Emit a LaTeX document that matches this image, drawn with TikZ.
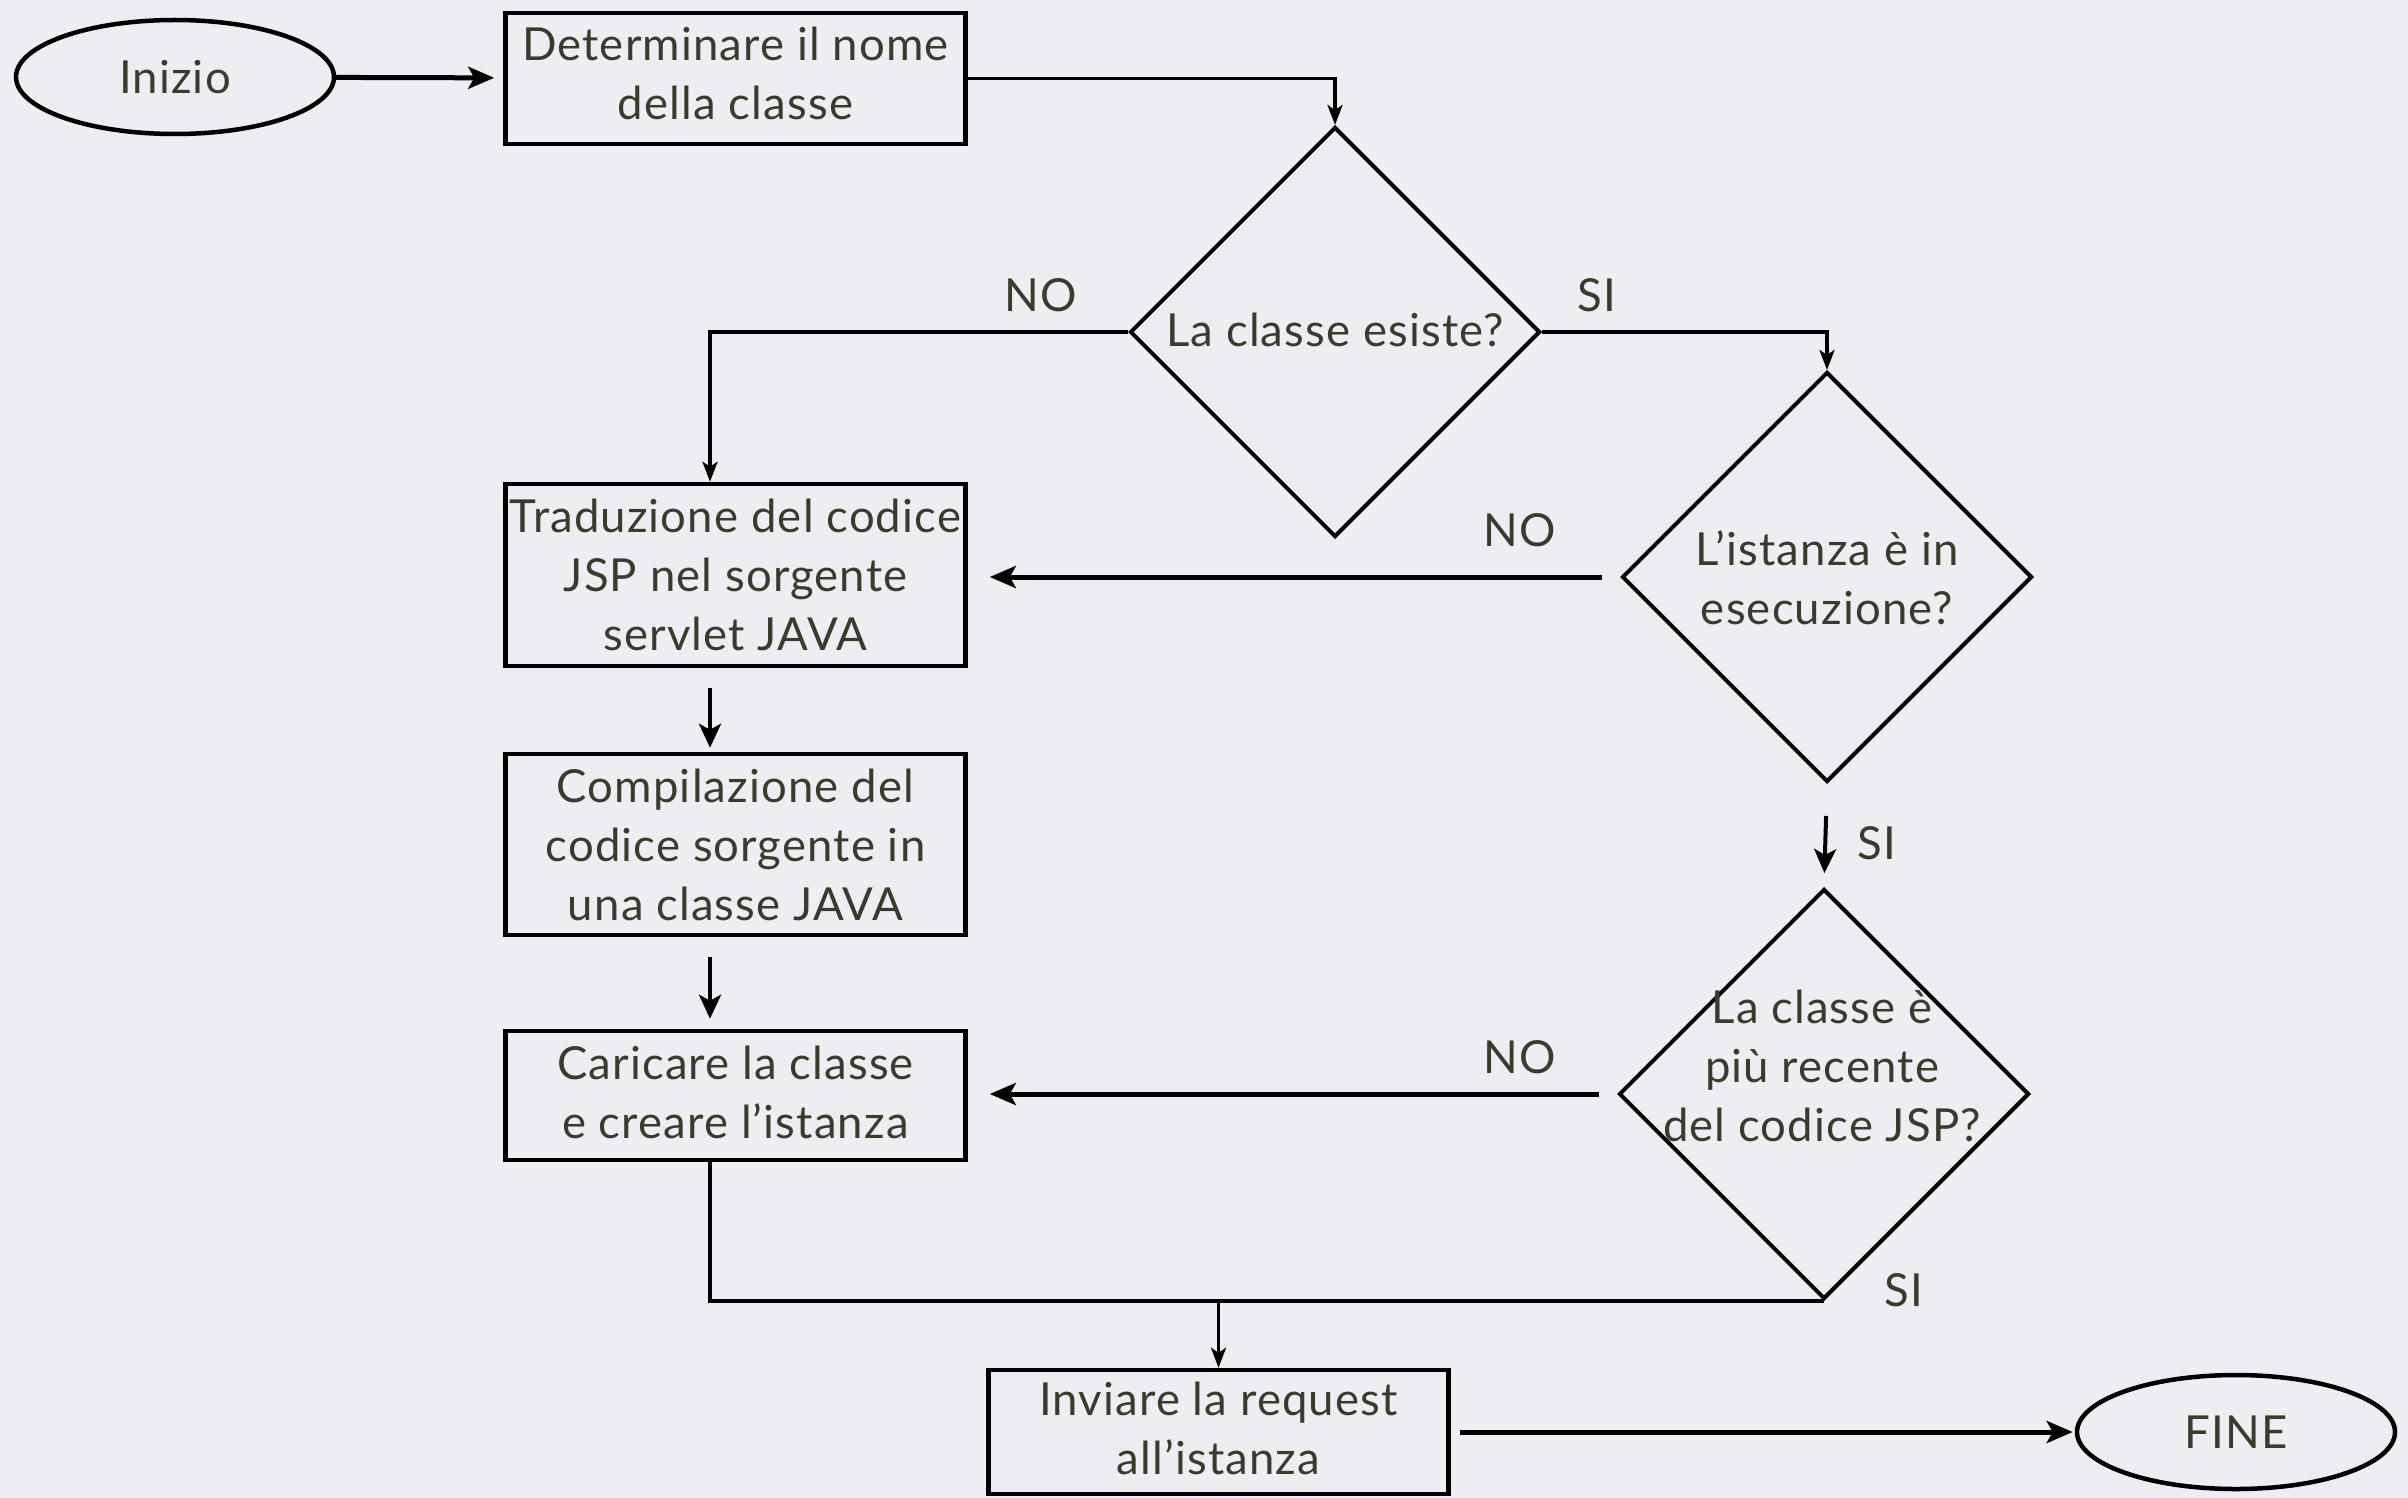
\documentclass[tikz,border=0pt]{standalone}
\usepackage{fontspec}
\setmainfont{Lato}[LetterSpace=2.5]
\usetikzlibrary{shapes.geometric,arrows.meta}
\definecolor{bg}{HTML}{EEEEF2}
\definecolor{ink}{HTML}{3A3A2F}
\begin{document}
\begin{tikzpicture}[x=1pt,y=-1pt,
  every node/.style={text=ink, font=\fontsize{45.5}{59}\selectfont},
  proc/.style={draw=black, line width=4.5pt, rectangle, minimum width=460pt, inner sep=0pt, align=center},
  term/.style={draw=black, ellipse, line width=4.5pt, minimum width=318pt, minimum height=114pt, inner sep=0pt},
  dec/.style={draw=black, diamond, line width=4pt, minimum width=410pt, minimum height=410pt, inner sep=0pt},
  txt/.style={align=center, inner sep=0pt},
  lab/.style={inner sep=0pt},
  big/.style={line width=5pt, -{Stealth[length=26pt,width=22pt,inset=6pt]}},
  med/.style={line width=4pt, -{Stealth[length=24pt,width=22pt,inset=6pt]}},
  thin/.style={line width=3.5pt, -{Stealth[length=20pt,width=15pt,inset=5pt]}}
]
\fill[bg] (0,0) rectangle (2408,1498);
\useasboundingbox (0,0) rectangle (2408,1498);

% terminals
\node[term] (inizio) at (175,77) {Inizio};
\node[term] (fine) at (2236,1432) {FINE};

% process boxes
\node[proc, minimum height=131pt] (box1) at (735.5,78.5) {};
\node[txt] (box1t) at (735.5,73) {Determinare il nome\\della classe};
\node[proc, minimum height=182pt] (box2) at (735.5,575) {Traduzione del codice\\JSP nel sorgente\\servlet JAVA};
\node[proc, minimum height=181pt] (box3) at (735.5,844.5) {Compilazione del\\codice sorgente in\\una classe JAVA};
\node[proc, minimum height=129pt] (box4) at (735.5,1095.5) {};
\node[txt] (box4t) at (735.5,1092) {Caricare la classe\\e creare l’istanza};
\node[proc, minimum height=124pt] (box5) at (1218.5,1432) {};
\node[txt] (box5t) at (1218.5,1428) {Inviare la request\\all’istanza};

% decisions
\node[dec] (d1) at (1335,332) {};
\node[dec] (d2) at (1827,577) {};
\node[dec] (d3) at (1824,1094) {};
\node[txt] (d1t) at (1335,330) {La classe esiste?};
\node[txt] (d2t) at (1827,578) {L’istanza è in\\esecuzione?};
\node[txt] (d3t) at (1822,1066) {La classe è\\più recente\\del codice JSP?};

% helper x coordinates
\coordinate (xl) at (710,0);

% connectors
\draw[big, shorten >=9pt] (inizio) -- (box1);
\draw[thin] (box1.east) -| (d1.north);
\draw[thin] (d1.west) -| (box2.north -| xl);
\draw[thin] (d1.east) -| (d2.north);
\draw[big, shorten <=18pt, shorten >=22pt] (d2.west) -- (d2.west -| box2.east);
\draw[med, shorten <=20pt, shorten >=4pt] (box2.south -| xl) -- (box3.north -| xl);
\draw[med, shorten <=20pt, shorten >=10pt] (box3.south -| xl) -- (box4.north -| xl);
\draw[med, shorten <=32pt, shorten >=14pt] (d2.south) -- (d3.north);
\draw[big, shorten <=18pt, shorten >=22pt] (d3.west) -- (d3.west -| box4.east);
\draw[line width=4pt] (box4.south -| xl) |- (d3.south);
\draw[thin] (box5.north |- d3.south) -- (box5.north);
\draw[big, shorten <=9pt, shorten >=2pt] (box5.east) -- (fine.west);

% branch labels
\node[lab] (no1) at (1041,295) {NO};
\node[lab] (si1) at (1597,295) {SI};
\node[lab] (no2) at (1520,530) {NO};
\node[lab] (si2) at (1877,843) {SI};
\node[lab] (no3) at (1520,1057) {NO};
\node[lab] (si3) at (1904,1290) {SI};
\end{tikzpicture}
\end{document}
